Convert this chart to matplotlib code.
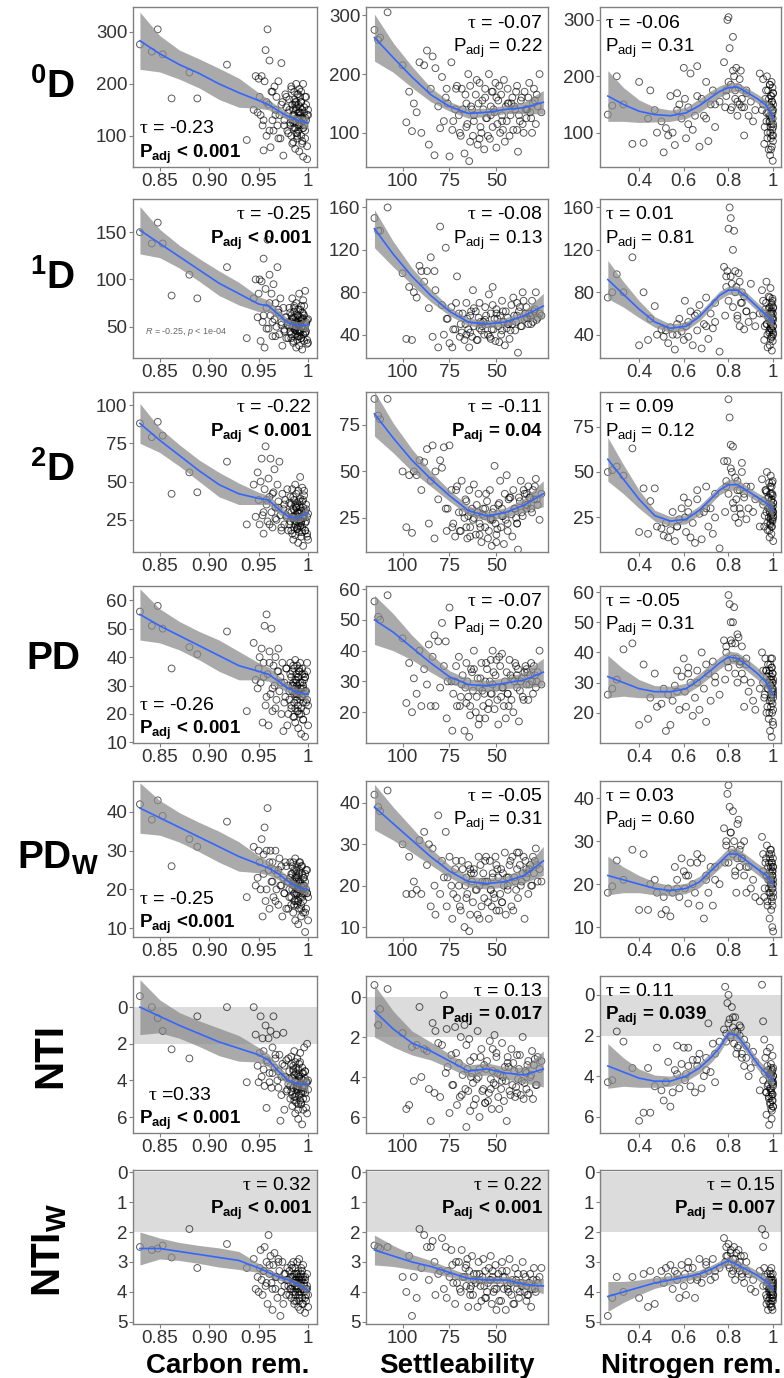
import numpy as np
import matplotlib
matplotlib.use("Agg")
import matplotlib.pyplot as plt

plt.rcParams["font.family"] = ["Liberation Sans", "DejaVu Sans"]
plt.rcParams["mathtext.fontset"] = "custom"
plt.rcParams["mathtext.rm"] = "Liberation Sans"
plt.rcParams["mathtext.bf"] = "Liberation Sans:bold"
plt.rcParams["mathtext.it"] = "Liberation Serif"
plt.rcParams["mathtext.sf"] = "Liberation Sans:italic"


def nums(s):
    return np.array(s.split(), dtype=float)


# ── x values (same samples in every row) ─────────────────────────────────────
carbon_x = nums("""
0.830 0.842 0.848 0.853 0.862 0.880 0.888 0.918 0.938
0.945 0.947 0.949 0.950 0.951 0.952 0.953 0.954 0.955 0.956 0.957 0.958 0.959
0.960 0.961 0.962 0.963 0.964 0.965 0.966 0.967 0.968 0.969 0.970 0.971 0.972
0.973 0.974 0.975 0.976 0.977 0.978 0.979
0.980 0.981 0.982 0.983 0.983 0.984 0.984 0.985 0.985 0.986 0.986 0.986 0.987
0.987 0.987 0.988 0.988 0.988 0.989 0.989 0.989 0.990 0.990 0.990 0.990 0.991
0.991 0.991 0.992 0.992 0.992 0.993 0.993 0.993 0.994 0.994 0.994 0.995 0.995
0.995 0.996 0.996 0.997 0.997 0.998 0.998 0.999 1.000
0.955 0.958 0.961 0.964 0.967 0.970 0.973 0.976 0.978 0.980
0.981 0.982 0.983 0.984 0.985 0.986 0.987 0.988 0.989 0.990
0.990 0.991 0.992 0.993 0.994 0.995 0.996 0.997 0.998 0.999
0.985 0.987 0.989 0.991 0.993 0.995 0.997 0.999 1.000 0.988""")

settle_x = nums("""
115 113 112 108 100 98 96.5 95 94 92.5
91 90 88.5 87 86 85 84 83 82.5 81
80 79 78 77 76.5 75 74 73.5 72 71
70 69 68.5 67 66 65.5 65 64.5 64 63
62.5 62 61 60 59.5 59 58 57 56.5 56
55 54 53.5 53 52.5 52 51 50.5 50 49
48 47.5 47 46 45.5 45 44.5 44 43 42
41.5 41 40 39 38.5 38 37 36 35 34.5
34 33 32 31 30.5 30 29 28 27 26
76 73 71.5 69.5 68 66.5 64 62 60.5 58.5
57.5 55.5 54.5 52 51.5 49.5 48.5 46.5 44 42.5
40.5 39.5 37.5 36.5 35.5 33.5 32.5 31.5 29.5 28.5
66 63.5 59 56 53 50 47 43.5 39 34""")

nitro_x = nums("""
0.26 0.28 0.30 0.33 0.37 0.40 0.42 0.44 0.45 0.47 0.48 0.50
0.51 0.52 0.53 0.54 0.55 0.56 0.57 0.58 0.59 0.60 0.605 0.61 0.62 0.63 0.64
0.65 0.66 0.67 0.68 0.69 0.70 0.71 0.72 0.73 0.74 0.76
0.78 0.785 0.79 0.795 0.80 0.805 0.81 0.815 0.82 0.825 0.83 0.835 0.84 0.845
0.85 0.855 0.86 0.87 0.88 0.89 0.90 0.91 0.92 0.94
0.95 0.955 0.96 0.965 0.97 0.972 0.975 0.977 0.98 0.982 0.984 0.985 0.986
0.988 0.989 0.99 0.991 0.992 0.993 0.994 0.995 0.996 0.997 0.998 0.999 1.0 1.0 1.0
0.955 0.962 0.968 0.974 0.978 0.981 0.983 0.985 0.987 0.989
0.990 0.991 0.992 0.993 0.994 0.995 0.996 0.997 0.998 0.999
1.0 1.0 1.0 0.97 0.986
0.79 0.80 0.81 0.82 0.83 0.84 0.85 0.86 0.87 0.88
0.57 0.62 0.66 0.70 0.74""")

# ── y values per row / column ────────────────────────────────────────────────
d0_carbon = nums("""
276 262 305 257 172 222 172 237 92
150 215 145 210 175 140 215 120 72 205 265 100 305 160 245 78 185 130 110 195
150 175 120 205 140 95 240 165 62 130 180 155 110
145 170 120 195 100 160 130 88 150 185 115 140 75 165 125 200 105 150 135 180
95 160 120 145 110 190 130 70 155 140 175 100 125 165 85 150 135 115 200 60
145 120 175 95 130 160 55 140
130 165 110 185 140 95 160 120 175 105 150 125 190 85 140 170 115 155 100 135
180 120 145 165 90 130 155 110 175 140 125 160 105 145 185 115 135 80 150 165""")
d0_settle = nums("""
275 258 262 305 215 118 170 103 150 135 220 100 215 240 80 175 230 62 210 145
108 195 120 160 175 60 220 105 140 180 130 95 175 65 150 115 200 52 180 140
95 120 165 80 150 185 100 140 72 160 125 200 90 145 170 110 135 185 75 155
100 165 130 190 85 145 120 175 95 150 160 105 140 180 68 130 155 115 170 140
125 160 135 100 150 175 115 145 200 135
150 120 175 100 140 165 85 130 190 110 155 125 95 170 140 115 180 105 150 130
145 170 120 160 100 140 185 125 155 165 110 145 90 175 130 160 120 150 105 140""")
d0_nitro = nums("""
132 148 200 150 80 190 82 125 175 140 100 120
65 108 95 165 100 78 170 150 125 215 160 90 145 205 105 130 218 75 160 130
190 85 150 175 110 155
225 145 175 300 305 250 185 145 270 200 160 215 130 180 150 210 145 95 175 130
155 120 140 205
140 195 80 160 120 200 100 175 70 150 130 185 60 110 165 90 145 125 190 75
155 105 135 50 170 115 95 140
150 110 175 90 135 160 120 185 100 145 70 130 165 115 155 95 140 180 125 85
150 110 170 135 120
165 190 140 210 175 155 195 160 145 170 140 115 165 125 150""")

d1_carbon = nums("""
150 138 160 138 83 105 80 113 38
80 100 60 85 100 35 98 55 122 28 90 70 142 48 105 62 85 40 95 58
75 50 113 65 42 80 55 30 70 47 60 38 52
55 70 45 62 38 80 50 58 33 66 48 72 42 55 60 28 75 50 45 63
36 52 68 40 57 85 47 30 60 53 44 72 38 56 65 26 50 78 42 59
35 62 48 88 45 55 32 58
62 48 75 55 40 68 52 45 60 38 50 65 42 58 35 70 47 55 40 62
52 45 68 38 58 48 72 43 53 36 60 46 55 40 50 64 44 57 33 49""")
d1_settle = nums("""
150 138 138 160 98 36 85 35 80 75 105 100 90 100 65 113 38 100 82 28
142 68 40 122 55 32 66 28 45 95 60 50 42 35 70 55 45 28 58 38
82 48 62 35 56 70 44 52 40 66 50 78 38 60 45 85 55 34 64 48
58 40 72 52 30 62 46 56 36 68 50 75 44 58 23 62 48 80 55 60
66 50 58 72 52 62 80 56 60 58
55 45 70 38 60 50 42 65 35 52 48 58 40 68 45 55 33 62 50 44
58 52 66 48 72 56 60 50 64 54 40 62 46 54 36 60 44 50 70 56""")
d1_nitro = nums("""
75 80 97 80 113 30 80 35 55 67 40 45
38 44 32 47 40 26 50 55 43 35 72 48 38 62 30 58 44 68 27 50 75 36 60 46 52 24
104 58 95 100 140 160 150 88 120 138 100 85 55 98 48 70 80 45 62 52 88 58 48 60
82 72 35 64 90 50 28 58 76 42 66 30 55 84 46 60 38 70 52 25 62 44 74 34 56 48
65 40
60 48 70 40 56 65 44 75 52 36 62 50 58 45 68 38 55 72 48 60 42 66 54 50 46
85 72 95 66 80 58 90 70 76 62 40 52 60 48 70""")

d2_carbon = nums("""
88 79 89 80 42 56 43 63 22
48 27 56 38 22 50 65 28 16 45 73 35 24 52 40 65 30 20 43 58
33 25 48 37 63 28 18 42 32 22 38 27 45
30 22 40 18 35 27 45 12 32 25 38 20 28 48 15 33 24 42 19 30
36 10 27 44 21 34 29 17 39 25 53 14 31 23 37 20 46 26 8 33
28 41 18 30 24 35 16 29
30 38 22 42 26 33 20 35 28 18 36 24 30 16 40 27 22 34 19 29
25 37 21 31 17 28 44 23 32 14 26 35 20 30 24 38 18 27 12 33""")
d2_settle = nums("""
89 80 78 89 50 20 48 17 50 48 56 40 55 62 22 45 64 14 50 35
56 52 63 30 18 64 40 20 15 42 28 18 45 25 34 14 26 40 20 30
24 43 16 28 38 22 12 30 26 20 34 18 40 25 10 28 53 22 16 32
45 20 30 11 38 24 48 18 36 27 15 40 30 22 8 36 45 26 38 32
30 42 36 28 40 35 46 32 24 38
30 22 40 18 28 35 15 25 32 20 27 38 14 24 30 19 33 26 22 36
30 25 34 28 40 32 36 30 42 35 20 28 16 30 24 12 26 35 22 38""")
d2_nitro = nums("""
50 51 53 48 63 17 41 16 34 41 20 19
15 22 14 18 28 12 20 24 30 36 25 17 33 14 22 11 40 27 13 28 42 20 30 16 25 8
56 28 42 56 90 80 65 50 64 30 25 35 45 22 40 27 50 38 24 30 42 28 35 20
46 32 20 40 28 50 18 36 25 44 14 30 38 22 48 26 34 16 42 30 20 38 24 45 28 12
33 26
34 26 40 22 30 36 18 28 42 24 32 38 20 35 27 44 29 23 37 31 25 33 28 39 21
45 38 52 33 47 40 30 55 36 42 20 28 35 30 38""")

pd_carbon = nums("""
56 51 58 50 36 43.5 41 49 21
45 32 29 36 40 31 43 17 38 51 23 55 34 16 42 27 50 21 37 30
40 25 35 43 28 33 20 38 14 31 26 36 16
30 25 38 22 33 28 35 19 31 27 36 24 29 39 17 32 26 34 21 30
37 15 28 33 23 35 27 20 31 25 38 13 29 22 34 26 36 18 30 24
32 27 12 33 21 28 35 23
33 26 38 29 22 35 31 24 36 20 28 34 23 30 37 19 32 27 25 33
21 36 29 26 31 18 34 28 24 38 30 22 27 35 20 29 33 25 16 31""")
pd_settle = nums("""
56 51 50 58 44 23 36 20 31 26 40 22 34 29 42 22 38 45 22 43
28 49 35 43 18 54 30 14 30 22 38 25 29 14 36 30 25 12 22 33
27 40 20 31 16 28 36 22 26 18 34 23 30 37 26 40 21 32 28 16
35 25 39 22 30 18 33 26 37 24 31 20 36 28 34 17 30 25 33 35
29 24 32 30 26 35 28 33 40 29
30 26 35 22 32 28 19 34 25 31 27 36 21 29 33 24 38 28 26 32
30 35 27 31 24 33 29 36 32 30 23 34 18 30 26 37 28 22 32 34""")
pd_nitro = nums("""
26 28 31 41 43 16 36 18 25 33 22 23
28 14 26 16 24 29 34 21 32 38 27 22 35 30 19 25 34 21 40 28 17 33 24 37 30 26
44 31 42 37 59 56 50 43 50 55 43 38 30 45 36 37 33 22 38 27 30 24 21 28
40 34 25 38 20 32 28 36 18 30 24 34 14 29 38 22 31 26 12 35 20 28 33 17 30 25
16 27
30 26 34 22 28 33 20 31 36 25 29 32 24 35 27 38 30 23 33 28 26 31 21 34 29
40 35 44 38 33 46 37 42 31 36 27 33 30 36 32""")

pdw_carbon = nums("""
42 38 43 39 26 33 31 37.5 18
31 21 23 30 27 20 33 13 29 36 17 30 41 25 15 30 22 27 18 25
30 20 24 16 28 21 26 13 23 19 27 15 22
22 18 27 16 24 20 26 14 21 19 25 17 23 28 12 22 19 24 16 21
26 11 20 23 17 25 19 15 22 18 27 13 21 16 24 19 26 14 20 17
23 19 9 22 15 20 25 18
24 20 27 22 17 25 21 19 26 15 20 23 18 24 27 16 21 25 19 22
17 24 20 26 18 23 21 14 25 19 22 17 20 27 15 21 24 19 12 23""")
pdw_settle = nums("""
42 39 38 43 30 18 27 18 21 19 31 18 33 25 30 15 29 20 13 37
18 26 22 33 15 27 20 12 24 17 20 14 26 10 22 18 25 9 24 21
16 24 19 13 27 20 15 23 17 26 21 12 26 19 15 23 17 27 14 22
18 24 16 20 28 13 22 19 25 15 27 14 21 24 17 28 20 23 12 26
22 18 25 20 27 23 29 21 24 21
22 18 26 15 24 20 13 23 19 25 21 27 16 22 18 24 14 23 20 26
22 19 25 21 27 23 24 20 26 25 17 23 12 21 19 25 16 22 28 24""")
pdw_nitro = nums("""
18 19.5 25.5 21 28 14 27 14 20 21 18 13
17 14 19 12.5 18 24 21 17 26 23 19 22 15.5 25 20 18 27 15 26 12 22 18 24 15 21 20
33 25 30 41 43 38 32 28 37 30 22 18 26 35 24 29 26 22 18 24 19 21 17 16
31 27 17 25 22 29 15 24 19 27 12 23 26 18 21 28 14 25 20 16 23 10 22 19 24 17
9 21
23 19 26 16 21 25 18 22 28 20 24 17 27 21 19 25 22 15 23 26 20 24 18 22 21
29 25 32 27 23 34 28 26 30 24 19 22 25 21 24""")

nti_carbon = nums("""
-0.6 0.0 0.6 1.3 2.3 2.8 0.5 0.0 4.1
0.0 1.5 3.2 4.1 2.5 0.5 3.8 1.7 2.4 4.3 1.0 5.5 3.0 1.7 3.6 1.3 4.4 2.2 0.5 3.3
2.8 1.5 4.0 3.5 2.6 6.2 4.8 3.1 1.4 5.6 3.8 2.9 4.5
4.2 3.5 5.0 2.7 4.6 3.9 5.4 3.2 4.4 2.4 4.9 3.7 5.8 4.1 3.0 4.7 3.6 5.2 4.3 2.8
4.0 5.6 3.4 4.5 6.1 3.8 4.8 3.1 5.1 4.2 2.5 4.6 3.9 5.3 3.3 4.4 6.4 4.0 3.6 5.0
4.3 2.2 4.7 3.5 5.5 4.1 2.0 4.5
3.4 2.9 4.1 3.6 2.6 4.4 3.8 3.2 4.6 2.8 3.9 4.3 3.1 4.8 3.5 5.1 4.0 3.3 4.5 3.7
5.3 4.2 3.0 4.7 3.6 5.6 4.4 3.9 5.0 4.1 3.4 4.9 4.3 3.8 5.2 4.6 3.5 5.8 4.0 4.4""")
nti_settle = nums("""
-0.6 1.4 0.6 -0.4 1.8 5.6 5.4 2.5 4.2 2.4 0.5 4.0 2.6 2.7 4.6 6.2 1.3 4.8 1.7 2.3
5.0 2.4 -0.1 3.8 1.6 5.8 2.9 4.4 1.5 5.4 3.3 2.0 4.9 1.4 6.5 3.6 4.7 2.1 5.7 3.8
4.3 3.0 5.1 1.7 4.0 6.0 2.6 4.6 3.4 5.3 3.2 4.8 2.2 4.1 5.6 3.7 1.9 4.4 2.8 5.0
3.9 4.6 2.3 5.2 3.5 4.2 6.2 3.0 4.7 2.6 4.4 3.3 5.0 2.9 4.1 3.6 4.9 2.0 4.3 3.7
4.6 3.2 4.0 2.7 5.1 3.4 4.4 3.0 3.6 3.2
3.5 4.4 2.8 5.0 3.9 4.6 3.2 5.4 4.1 3.0 4.7 3.6 5.2 2.6 4.3 3.8 5.6 4.0 3.3 4.9
3.7 4.5 2.9 4.2 5.1 3.4 4.8 3.9 3.1 4.4 2.4 4.0 3.6 5.3 4.6 3.0 4.2 3.5 4.8 3.8""")
nti_nitro = nums("""
4.3 4.2 1.8 2.3 3.6 6.2 5.8 3.6 5.8 4.5 2.6 4.7
5.2 4.3 3.3 5.5 4.8 3.7 2.5 4.6 3.4 2.6 4.2 3.9 2.6 4.5 3.2 4.8 3.5 2.9 4.6 4.0
3.1 1.4 3.8 2.4 4.3 2.3
1.7 -0.4 1.9 0.4 0.0 1.2 2.1 0.6 1.6 2.4 1.1 2.9 1.8 2.5 2.0 1.6 3.1 3.5 2.5 4.0
3.6 2.8 3.3 4.7
-0.5 1.3 2.2 3.1 5.9 2.8 4.5 3.7 5.0 6.4 4.1 2.6 5.3 3.9 4.6 3.4 5.6 4.8 6.1 3.8
5.2 4.3 3.0 4.9 5.5 4.0 3.6 4.4
4.2 3.8 4.8 3.5 4.4 5.1 3.9 4.6 5.4 4.0 4.7 3.6 5.0 4.3 5.7 4.1 4.9 3.7 5.2 4.5
4.0 5.5 4.3 4.8 3.9
2.3 1.4 2.0 1.1 1.8 2.6 1.5 2.9 2.2 3.1 3.9 3.5 3.2 3.7 2.9""")

ntiw_carbon = nums("""
2.5 2.6 2.55 2.45 2.85 1.9 3.2 2.4 3.2
2.9 3.9 3.5 4.0 3.2 2.6 3.6 4.1 3.3 2.5 3.8 3.0 4.4 2.1 3.4 2.8 3.7 4.6 3.1 2.7
3.9 3.5 4.2 2.9 3.3 4.8 3.6 3.0 4.4 3.8 3.4 4.1 3.2
3.6 3.3 3.9 3.1 4.2 3.5 3.8 3.0 4.0 3.4 4.4 3.7 3.2 4.1 3.6 3.9 3.4 4.3 3.7 3.0
3.8 4.5 3.5 3.9 3.3 4.1 3.6 2.9 4.0 3.7 4.6 3.4 3.8 3.2 4.2 3.6 4.4 3.5 3.9 3.1
4.0 3.7 4.7 3.5 3.9 4.3 3.4 4.1
3.3 3.7 3.1 3.9 3.5 3.0 4.0 3.4 3.6 3.8 4.1 3.5 3.9 3.2 3.7 4.3 3.6 3.8 3.4 4.0
3.7 4.2 3.5 3.9 3.3 4.4 3.8 3.6 4.1 3.9 3.5 4.0 3.7 4.3 3.6 3.9 4.2 3.8 4.5 3.6""")
ntiw_settle = nums("""
2.45 2.5 2.55 2.5 3.5 4.0 2.8 4.8 3.5 4.2 1.9 3.2 2.1 2.5 3.6 2.5 2.3 3.0 4.1 3.4
3.3 2.2 3.9 2.5 4.2 3.5 2.6 3.1 4.4 3.7 3.0 4.0 2.6 3.5 3.8 2.9 4.5 3.3 3.9 2.8
4.1 3.4 3.7 4.5 3.0 3.6 4.3 2.9 3.8 3.3 4.0 3.2 3.6 2.8 4.4 3.5 3.9 3.1 4.6 3.4
3.7 4.3 3.0 3.9 3.5 4.6 3.3 3.8 2.9 4.1 3.6 4.4 3.2 3.9 3.4 4.2 3.7 3.0 4.0 3.5
3.8 4.1 3.4 3.9 3.6 3.2 4.0 3.7 3.5 3.2
3.3 3.7 3.0 3.9 3.5 3.2 4.1 3.6 3.4 3.8 3.5 4.2 3.7 3.3 4.0 3.6 4.3 3.5 3.9 3.7
4.4 3.6 4.0 3.8 3.4 4.1 3.7 4.5 3.9 3.6 3.1 3.8 3.4 4.2 3.6 3.9 3.3 4.0 3.7 4.3""")
ntiw_nitro = nums("""
4.8 4.2 3.5 4.0 3.5 4.2 3.4 4.5 3.3 4.4 3.6 3.3
3.7 3.2 3.5 3.1 3.9 3.3 3.6 4.2 3.1 3.8 3.4 4.1 3.0 3.6 3.2 4.2 3.5 2.9 3.7 3.4
3.1 3.3 3.6 2.9 3.5 3.2
2.2 3.0 2.5 2.8 2.4 3.2 2.6 3.4 2.9 2.5 3.6 2.7 3.1 2.6 3.3 2.8 3.5 3.7 3.0 3.4
3.9 3.6 4.0 3.3
1.9 2.5 3.2 2.1 3.8 4.2 3.4 4.6 3.6 4.0 3.3 4.4 3.7 4.1 3.5 4.5 3.9 3.2 4.3 3.6
4.0 3.8 4.6 3.4 4.2 3.9 3.7 4.1
3.8 3.5 4.1 3.7 4.3 3.9 3.6 4.2 4.0 3.4 4.4 3.8 4.1 3.6 4.5 3.9 4.2 3.7 4.0 4.3
3.8 4.1 3.6 4.4 3.9
2.8 3.1 2.7 3.3 2.9 3.2 3.0 3.4 2.8 3.3 3.4 3.2 3.6 3.0 3.3""")

# ── loess fits (fit, half width of the band) ─────────────────────────────────
carbon_grid = [0.83, 0.85, 0.87, 0.89, 0.91, 0.93, 0.95, 0.96, 0.97, 0.98, 0.99, 1.0]
settle_grid = [115, 105, 95, 85, 75, 65, 55, 45, 35, 25]
nitro_grid = [0.26, 0.33, 0.40, 0.47, 0.54, 0.61, 0.67, 0.72, 0.76, 0.80, 0.84, 0.88, 0.93, 0.97, 1.0]

d0_carbon_fit = [283, 258, 237, 220, 200, 183, 168, 160, 148, 137, 130, 125]
d0_carbon_se = [55, 35, 28, 28, 30, 28, 15, 10, 8, 7, 8, 12]
d0_settle_fit = [262, 228, 195, 165, 145, 133, 135, 140, 143, 152]
d0_settle_se = [40, 25, 18, 12, 8, 8, 7, 7, 10, 20]
d0_nitro_fit = [165, 150, 138, 132, 130, 135, 148, 162, 173, 180, 181, 172, 160, 148, 125]
d0_nitro_se = [45, 30, 20, 13, 10, 10, 12, 12, 10, 9, 8, 8, 8, 10, 20]

d1_carbon_fit = [152, 138, 124, 110, 96, 85, 74, 72, 63, 54, 51, 52]
d1_carbon_se = [25, 15, 12, 12, 13, 12, 8, 6, 5, 4, 4, 7]
d1_settle_fit = [140, 116, 95, 77, 62, 52, 50, 52, 58, 67]
d1_settle_se = [18, 12, 8, 6, 4, 3.5, 3.5, 4, 5, 12]
d1_nitro_fit = [92, 78, 64, 52, 46, 48, 57, 68, 77, 82, 82, 76, 66, 58, 52]
d1_nitro_se = [18, 12, 8, 5, 4, 4, 4, 4, 4, 4, 4, 4, 4, 5, 8]

d2_carbon_fit = [88, 77, 67, 57, 48, 42, 39, 38, 32, 27, 26, 30]
d2_carbon_se = [13, 8, 7, 7, 8, 7, 4, 3, 3, 2.5, 2.5, 4]
d2_settle_fit = [81, 68, 56, 46, 37, 29, 26, 28, 32, 38]
d2_settle_se = [12, 8, 6, 4, 3, 2.5, 2.5, 2.5, 3.5, 7]
d2_nitro_fit = [57, 46, 35, 26, 23, 24, 29, 35, 40, 43, 43, 40, 36, 33, 29]
d2_nitro_se = [12, 8, 5, 3, 2.5, 2.5, 2.5, 2.5, 2.5, 3, 3, 2.5, 2.5, 3, 5]

pd_carbon_fit = [55, 51, 47.5, 44, 40.5, 37, 35, 34, 31.5, 29, 27.5, 27]
pd_carbon_se = [9, 6, 5, 5, 5.5, 5, 3, 2.5, 2, 1.5, 1.5, 2.5]
pd_settle_fit = [50, 46, 41, 36, 31.5, 29, 28.5, 29.5, 30.5, 33]
pd_settle_se = [8, 6, 4, 3, 2, 1.8, 1.8, 1.8, 2.5, 4.5]
pd_nitro_fit = [32, 30, 28, 27, 27, 28, 31, 34, 36.5, 38.5, 38, 36, 33, 30, 26]
pd_nitro_se = [7, 4.5, 3, 2, 1.8, 1.8, 2, 2, 2, 2, 2, 2, 2, 2.2, 3.5]

pdw_carbon_fit = [41, 38.5, 36, 33.5, 31, 28.5, 26.5, 25.5, 24, 22, 20.5, 20]
pdw_carbon_se = [6.5, 4.5, 3.8, 3.8, 4, 3.8, 2.2, 1.8, 1.5, 1.2, 1.1, 1.8]
pdw_settle_fit = [39, 35, 31, 27, 23.5, 21, 20.5, 21, 22.5, 26]
pdw_settle_se = [5.5, 4, 3, 2, 1.5, 1.3, 1.3, 1.3, 1.8, 3.5]
pdw_nitro_fit = [22, 21, 20, 19, 18.5, 19, 20.5, 23, 25, 27, 27, 25.5, 23.5, 22, 20]
pdw_nitro_se = [4.5, 3, 2, 1.5, 1.2, 1.2, 1.3, 1.3, 1.3, 1.4, 1.4, 1.3, 1.3, 1.5, 2.2]

nti_carbon_fit = [0.0, 0.5, 1.0, 1.45, 1.9, 2.25, 2.6, 2.9, 3.5, 4.0, 4.2, 4.2]
nti_carbon_se = [1.5, 0.9, 0.7, 0.7, 0.75, 0.7, 0.4, 0.35, 0.3, 0.25, 0.25, 0.4]
nti_settle_fit = [0.7, 1.6, 2.3, 2.7, 3.2, 3.7, 3.6, 3.8, 3.9, 3.6]
nti_settle_se = [1.3, 0.9, 0.6, 0.45, 0.35, 0.3, 0.3, 0.3, 0.4, 0.9]
nti_nitro_fit = [3.5, 3.8, 4.1, 4.25, 4.25, 4.0, 3.6, 3.1, 2.6, 1.9, 2.0, 2.6, 3.4, 3.9, 4.2]
nti_nitro_se = [1.1, 0.7, 0.45, 0.3, 0.25, 0.25, 0.25, 0.25, 0.25, 0.25, 0.25, 0.25, 0.25, 0.3, 0.45]

ntiw_carbon_fit = [2.55, 2.55, 2.65, 2.75, 2.85, 2.95, 3.2, 3.35, 3.5, 3.6, 3.75, 3.95]
ntiw_carbon_se = [0.55, 0.35, 0.3, 0.3, 0.32, 0.3, 0.15, 0.13, 0.1, 0.1, 0.1, 0.15]
ntiw_settle_fit = [2.6, 2.8, 3.0, 3.15, 3.35, 3.55, 3.6, 3.6, 3.75, 3.8]
ntiw_settle_se = [0.5, 0.35, 0.25, 0.2, 0.15, 0.12, 0.12, 0.12, 0.15, 0.25]
ntiw_nitro_fit = [4.15, 4.0, 3.85, 3.7, 3.6, 3.5, 3.4, 3.25, 3.1, 2.95, 3.1, 3.25, 3.45, 3.65, 3.9]
ntiw_nitro_se = [0.5, 0.35, 0.25, 0.18, 0.15, 0.13, 0.13, 0.13, 0.13, 0.15, 0.15, 0.15, 0.15, 0.18, 0.25]

# ── labels ───────────────────────────────────────────────────────────────────
row_labels = [r"$\mathbf{{}^{0}D}$", r"$\mathbf{{}^{1}D}$", r"$\mathbf{{}^{2}D}$",
              "PD", r"$\mathbf{PD_{W}}$", "NTI", r"$\mathbf{NTI_{W}}$"]
col_titles = ["Carbon rem.", "Settleability", "Nitrogen rem."]

tau_labels = [[" = -0.23", " = -0.07", " = -0.06"],
              [" = -0.25", " = -0.08", " = 0.01"],
              [" = -0.22", " = -0.11", " = 0.09"],
              [" = -0.26", " = -0.07", " = -0.05"],
              [" = -0.25", " = -0.05", " = 0.03"],
              [" =0.33", " = 0.13", " = 0.11"],
              [" = 0.32", " = 0.22", " = 0.15"]]
p_labels = [["< 0.001", "= 0.22", "= 0.31"],
            ["< 0.001", "= 0.13", "= 0.81"],
            ["< 0.001", "= 0.04", "= 0.12"],
            ["< 0.001", "= 0.20", "= 0.31"],
            ["<0.001", "= 0.31", "= 0.60"],
            ["< 0.001", "= 0.017", "= 0.039"],
            ["< 0.001", "< 0.001", "= 0.007"]]
p_bold = [[1, 0, 0], [1, 0, 0], [1, 1, 0], [1, 0, 0], [1, 0, 0], [1, 1, 1], [1, 1, 1]]

# ── layout (pixels of the 784 x 1378 image) ──────────────────────────────────
W, H = 784, 1378
COL_PX = [(133, 317), (366, 548), (600, 781)]
ROW_PX = [(7, 167), (199, 358), (392, 552), (586, 743), (781, 937), (976, 1133), (1170, 1324)]
XLIMS = [(0.823, 1.009), (119.5, 22.5), (0.225, 1.035)]
XTICKS = [([0.85, 0.90, 0.95, 1.0], ["0.85", "0.90", "0.95", "1"]),
          ([100, 75, 50], ["100", "75", "50"]),
          ([0.4, 0.6, 0.8, 1.0], ["0.4", "0.6", "0.8", "1"])]
YLIMS = [[(40, 348), (42, 314), (39, 323)],
         [(17, 185), (18, 168), (18, 168)],
         [(4, 108.5), (6.7, 92.7), (6, 94)],
         [(9.8, 65), (10, 61), (10, 62)],
         [(7.7, 48), (7.6, 45.3), (7.7, 44)],
         [(6.87, -1.7), (6.8, -1.05), (6.8, -0.93)],
         [(5.07, -0.07), (5.07, -0.07), (5.07, -0.07)]]
YTICKS = [[[100, 200, 300]] * 3,
          [[50, 100, 150], [40, 80, 120, 160], [40, 80, 120, 160]],
          [[25, 50, 75, 100], [25, 50, 75], [25, 50, 75]],
          [[10, 20, 30, 40, 50, 60], [20, 30, 40, 50, 60], [20, 30, 40, 50, 60]],
          [[10, 20, 30, 40]] * 3,
          [[0, 2, 4, 6]] * 3,
          [[0, 1, 2, 3, 4, 5]] * 3]
# where the tau / P text goes: tr = top right, tl = top left, bl = bottom left
TEXT_LOC = [["bl", "tr", "tl"], ["tr", "tr", "tl"], ["tr", "tr", "tl"],
            ["bl", "tr", "tl"], ["bl", "tr", "tl"], ["bl", "tr", "tl"],
            ["tr", "tr", "tr"]]
ROW_LABEL_POS = [(53, 87), (53, 278), (53, 470), (53, 659), (58, 858), (50, 1055), (50, 1250)]
COL_TITLE_X = [228, 457, 691]

xs = [carbon_x, settle_x, nitro_x]
grids = [carbon_grid, settle_grid, nitro_grid]
ys = [[d0_carbon, d0_settle, d0_nitro], [d1_carbon, d1_settle, d1_nitro],
      [d2_carbon, d2_settle, d2_nitro], [pd_carbon, pd_settle, pd_nitro],
      [pdw_carbon, pdw_settle, pdw_nitro], [nti_carbon, nti_settle, nti_nitro],
      [ntiw_carbon, ntiw_settle, ntiw_nitro]]
fits = [[(d0_carbon_fit, d0_carbon_se), (d0_settle_fit, d0_settle_se), (d0_nitro_fit, d0_nitro_se)],
        [(d1_carbon_fit, d1_carbon_se), (d1_settle_fit, d1_settle_se), (d1_nitro_fit, d1_nitro_se)],
        [(d2_carbon_fit, d2_carbon_se), (d2_settle_fit, d2_settle_se), (d2_nitro_fit, d2_nitro_se)],
        [(pd_carbon_fit, pd_carbon_se), (pd_settle_fit, pd_settle_se), (pd_nitro_fit, pd_nitro_se)],
        [(pdw_carbon_fit, pdw_carbon_se), (pdw_settle_fit, pdw_settle_se), (pdw_nitro_fit, pdw_nitro_se)],
        [(nti_carbon_fit, nti_carbon_se), (nti_settle_fit, nti_settle_se), (nti_nitro_fit, nti_nitro_se)],
        [(ntiw_carbon_fit, ntiw_carbon_se), (ntiw_settle_fit, ntiw_settle_se), (ntiw_nitro_fit, ntiw_nitro_se)]]

TICK_FS = 13.5
TXT_FS = 14
fig = plt.figure(figsize=(W / 100, H / 100), dpi=100)

for r in range(7):
    for c in range(3):
        x0, x1 = COL_PX[c]
        y0, y1 = ROW_PX[r]
        ax = fig.add_axes([x0 / W, 1 - y1 / H, (x1 - x0) / W, (y1 - y0) / H])

        if r >= 5:
            ax.axhspan(0, 2, color="#dcdcdc", lw=0, zorder=0)

        ax.scatter(xs[c], ys[r][c], s=24, facecolors="none", edgecolors="black",
                   linewidths=0.7, alpha=0.65, zorder=1)

        g = np.array(grids[c], float)
        f = np.array(fits[r][c][0], float)
        se = np.array(fits[r][c][1], float)
        ax.fill_between(g, f - se, f + se, color="#8a8a8a", alpha=0.72, lw=0, zorder=2)
        ax.plot(g, f, color="#3366FF", lw=1.2, zorder=3)

        ax.set_xlim(*XLIMS[c])
        ax.set_ylim(*YLIMS[r][c])
        ax.set_xticks(XTICKS[c][0])
        ax.set_xticklabels(XTICKS[c][1])
        ax.set_yticks(YTICKS[r][c])
        ax.set_yticklabels([str(v) for v in YTICKS[r][c]])
        for s in ax.spines.values():
            s.set_color("#808080")
            s.set_linewidth(1.0)
        ax.tick_params(direction="out", length=3, width=0.8, color="#808080",
                       labelsize=TICK_FS, labelcolor="#333333", pad=1)

        # tau and P_adj text
        loc = TEXT_LOC[r][c]
        if loc == "tr":
            tx, ha, ty = 0.97, "right", (0.90, 0.74)
        elif loc == "tl":
            tx, ha, ty = 0.03, "left", (0.90, 0.74)
        else:
            tx, ha, ty = 0.03, "left", (0.24, 0.08)
        px = tx
        if r == 5 and c == 0:
            tx = 0.08
        ax.text(tx, ty[0], r"$\tau$" + tau_labels[r][c], transform=ax.transAxes,
                ha=ha, va="center", fontsize=TXT_FS, color="black", zorder=5)
        if p_bold[r][c]:
            ptxt, fw = r"$\mathbf{P_{adj}}$ " + p_labels[r][c], "bold"
        else:
            ptxt, fw = r"$\mathrm{P_{adj}}$ " + p_labels[r][c], "normal"
        ax.text(px, ty[1], ptxt, transform=ax.transAxes, ha=ha, va="center",
                fontsize=TICK_FS, fontweight=fw, color="black", zorder=5)

        if r == 1 and c == 0:
            ax.text(0.835, 45, r"$\mathsf{R}$ = -0.25, $\mathsf{p}$ < 1e-04",
                    fontsize=6.5, color="#666666", va="center", zorder=5)

# row labels
for r, lab in enumerate(row_labels):
    lx, ly = ROW_LABEL_POS[r]
    rot = 90 if r >= 5 else 0
    fig.text(lx / W, 1 - ly / H, lab, fontsize=29 if r >= 5 else 28,
             fontweight="bold", ha="center", va="center", rotation=rot)

# column titles
for c, t in enumerate(col_titles):
    fig.text(COL_TITLE_X[c] / W, 1 - 1373 / H, t, fontsize=20, fontweight="bold",
             ha="center", va="baseline")

fig.savefig("out.png", dpi=100)
